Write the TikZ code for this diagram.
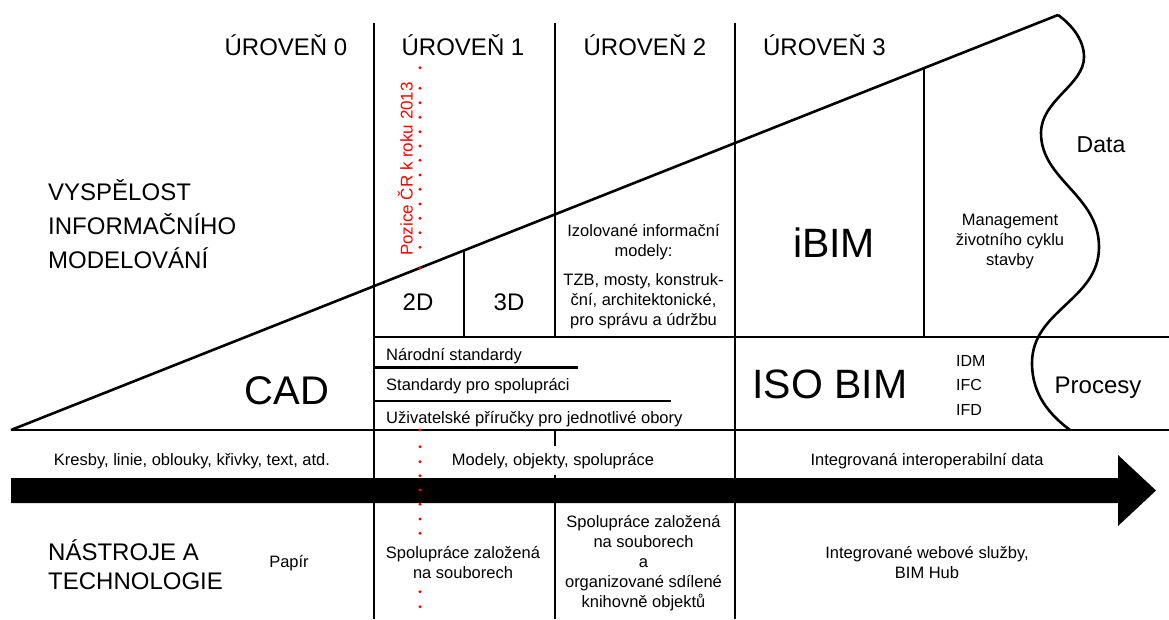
\documentclass[tikz,border=0pt]{standalone}
\usepackage{fontspec}
\setmainfont{Liberation Sans}
\begin{document}
\begin{tikzpicture}[x=1pt,y=-1pt,
  ln/.style={line width=2.6pt},
  txt/.style={inner sep=0pt, anchor=base, align=center},
  hdr/.style={txt, font=\fontsize{24}{29}\selectfont},
  huge/.style={txt, font=\fontsize{41}{48}\selectfont},
  sm/.style={txt, font=\fontsize{16.5}{20.2}\selectfont},
  smw/.style={sm, anchor=base west, align=left},
  rdot/.style={fill=red, draw=none}]
\useasboundingbox (0,0) rectangle (1169,619);
% main structure
\coordinate (tipL) at (11,430);
\coordinate (tipR) at (1058,15);
\draw[ln] (tipL) -- (tipR);
\draw[ln] (tipL) -- (1169,430);
\draw[ln] (374,337) -- (1169,337);
\draw[ln] (374,23) -- (374,619);
\draw[ln] (555,23) -- (555,337);
\draw[ln] (555,430) -- (555,446);
\draw[ln] (555,475) -- (555,619);
\draw[ln] (735,23) -- (735,619);
\draw[ln] (464,250.3) -- (464,337);
\draw[ln] (924,67.8) -- (924,337);
\draw[ln] (374,367.5) -- (578,367.5);
\draw[ln] (374,401) -- (671,401);
% wave
\draw[ln] (tipR) .. controls (1072,25) and (1084,40) .. (1084,57)
  .. controls (1084,85) and (1041,100) .. (1041,133)
  .. controls (1041,180) and (1099,195) .. (1099,247)
  .. controls (1099,300) and (1032,310) .. (1032,363)
  .. controls (1032,395) and (1050,415) .. (1070,430);
% arrow
\fill (11,478) -- (1118,478) -- (1118,455) -- (1156,490.5) -- (1118,526) -- (1118,503) -- (11,503) -- cycle;
% red dots
\foreach \yy in {67.7,88.3,102.7,117.3,131.7,146,160.3,175,189.3,204,218.3,232.7,247.3,268.3,430,446.7,461.7,475.7,490,504.3,519,533.3,591.7,606.7}
  \fill[rdot] (420,\yy) circle (1.6);
\node[txt, red, rotate=90, font=\fontsize{17}{20}\selectfont] (pos) at (412.5,169) {Pozice ČR k roku 2013};
% headers
\node[hdr] (l0) at (286,55) {ÚROVEŇ 0};
\node[hdr] (l1) at (463,55) {ÚROVEŇ 1};
\node[hdr] (l2) at (645,55) {ÚROVEŇ 2};
\node[hdr] (l3) at (824.5,55) {ÚROVEŇ 3};
\node[hdr, anchor=base west, align=left, font=\fontsize{24}{34}\selectfont] (vys) at (48,268) {VYSPĚLOST\\INFORMAČNÍHO\\MODELOVÁNÍ};
\node[hdr, anchor=base west, align=left, font=\fontsize{24}{29}\selectfont] (nas) at (48,589) {NÁSTROJE A\\TECHNOLOGIE};
\node[hdr] (d2) at (418,310) {2D};
\node[hdr] (d3) at (509,310) {3D};
\node[huge, font=\fontsize{40}{48}\selectfont] (cad) at (287,404) {CAD};
\node[huge] (iso) at (830,398) {ISO BIM};
\node[huge] (ibim) at (834,257) {iBIM};
\node[hdr, font=\fontsize{23}{28}\selectfont] (data) at (1101,152) {Data};
\node[hdr] (proc) at (1098,393) {Procesy};
% small texts
\node[sm] (izo) at (643.5,256.2) {Izolované informační\\modely:};
\node[sm] (tzb) at (643.5,325.4) {TZB, mosty, konstruk-\\ční, architektonické,\\pro správu a údržbu};
\node[sm] (man) at (1010,265.4) {Management\\životního cyklu\\stavby};
\node[smw, font=\fontsize{16}{24.5}\selectfont] (idm) at (956,415) {IDM\\IFC\\IFD};
\node[smw] (nar) at (386,360) {Národní standardy};
\node[smw] (std) at (386,390.7) {Standardy pro spolupráci};
\node[smw] (uzi) at (386,423) {Uživatelské příručky pro jednotlivé obory};
\node[sm] (kre) at (192,465) {Kresby, linie, oblouky, křivky, text, atd.};
\node[sm] (mod) at (553,465) {Modely, objekty, spolupráce};
\node[sm] (int) at (927,465) {Integrovaná interoperabilní data};
\node[sm] (pap) at (289,567) {Papír};
\node[sm] (spo1) at (463,578.2) {Spolupráce založená\\na souborech};
\node[sm] (spo2) at (643.5,607.8) {Spolupráce založená\\na souborech\\a\\organizované sdílené\\knihovně objektů};
\node[sm] (web) at (927,578.2) {Integrované webové služby,\\BIM Hub};
\end{tikzpicture}
\end{document}
